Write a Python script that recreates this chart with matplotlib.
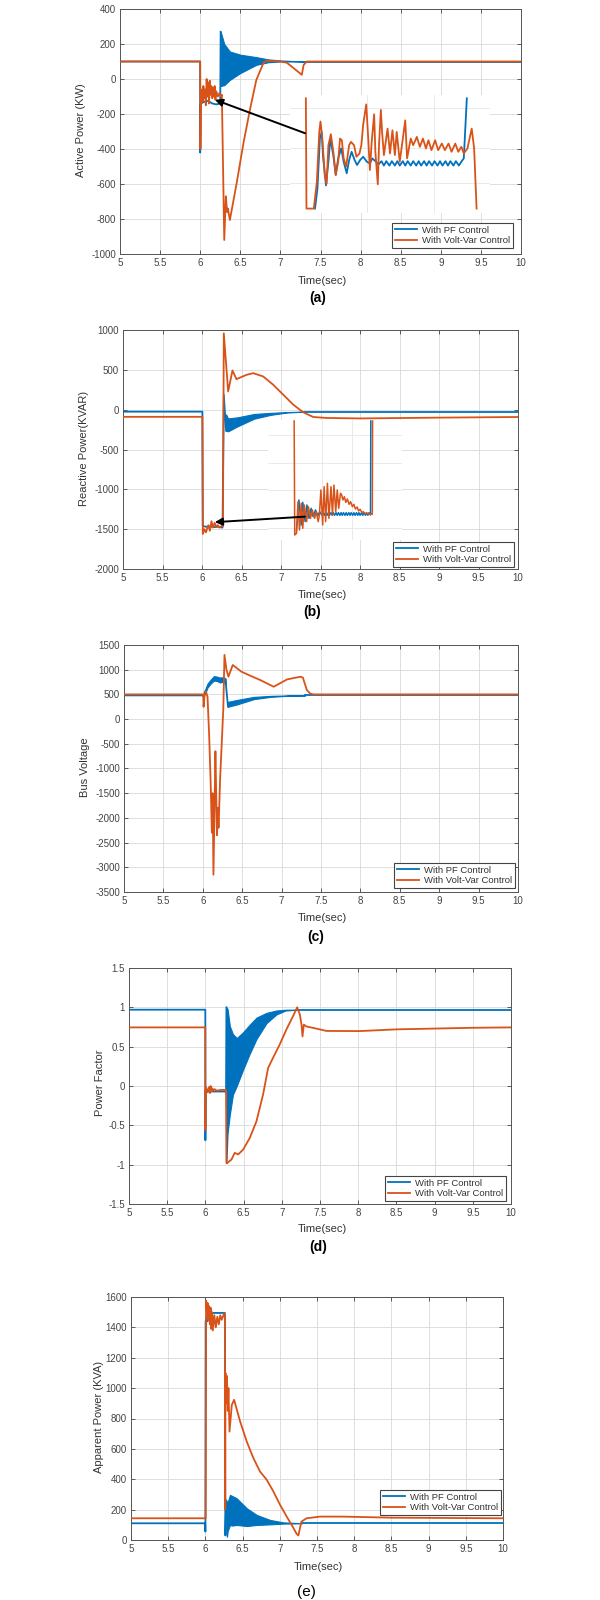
#!/usr/bin/env python3
"""Five stacked MATLAB-style time traces: PF control vs Volt-Var control."""

import matplotlib
matplotlib.use("Agg")
import matplotlib.pyplot as plt
from matplotlib.patches import ConnectionPatch

W, H = 600, 1600
BLUE = "#0072BD"
ORANGE = "#D95319"
LW = 1.3

X_TICKS = [5, 5.5, 6, 6.5, 7, 7.5, 8, 8.5, 9, 9.5, 10]
X_TICK_LABELS = ["5", "5.5", "6", "6.5", "7", "7.5", "8", "8.5", "9", "9.5", "10"]
LEGEND_LABELS = ["With PF Control", "With Volt-Var Control"]

# ---- (a) active power ----
A_PF_T = [5.0, 5.999, 6.0, 6.004, 6.01, 6.05, 6.1, 6.15, 6.2, 6.25, 6.255]
A_PF_V = [100, 100, -420, -150, -140, -130, -125, -140, -145, -140, 270]
A_PF_BAND_T = [6.255, 6.3, 6.37, 6.5, 6.7, 6.85, 7.0, 7.3]
A_PF_BAND_HI = [270, 200, 157, 139, 125, 112, 106, 100]
A_PF_BAND_LO = [-40, -35, -5, 34, 81, 96, 100, 100]
A_PF_TAIL_T = [7.3, 10.0]
A_PF_TAIL_V = [100, 100]
A_VV_T = [5.0, 5.999, 6.0, 6.003, 6.01, 6.02, 6.03, 6.04, 6.05, 6.06, 6.07, 6.08,
          6.09, 6.1, 6.11, 6.12, 6.13, 6.14, 6.15, 6.16, 6.17, 6.18, 6.19, 6.2,
          6.22, 6.24, 6.26, 6.27, 6.30, 6.32, 6.335, 6.345, 6.37, 6.455, 6.54,
          6.62, 6.70, 6.79, 6.83, 7.0, 7.08, 7.16, 7.267, 7.29, 7.33, 10.0]
A_VV_V = [100, 100, 100, -400, -100, -60, -130, -40, -110, -60, -150, 0,
          -100, -20, -140, -10, -90, -40, -110, -50, -100, -40, -120, -70,
          -100, -80, -100, -90, -920, -670, -760, -740, -806, -594, -365,
          -176, -5, 93, 105, 100, 93, 64, 24, 81, 100, 100]

# zoomed view of 6.0 - 6.28 s
INA_VV_T = [6.000, 6.001, 6.013, 6.018, 6.022, 6.024, 6.027, 6.031, 6.034, 6.037,
            6.041, 6.045, 6.049, 6.053, 6.056, 6.059, 6.062, 6.066, 6.071, 6.074,
            6.079, 6.083, 6.088, 6.091, 6.094, 6.099, 6.102, 6.105, 6.108, 6.112,
            6.114, 6.118, 6.120, 6.123, 6.125, 6.128, 6.134, 6.138, 6.142, 6.146,
            6.149, 6.154, 6.163, 6.166, 6.172, 6.176, 6.182, 6.187, 6.192, 6.197,
            6.201, 6.206, 6.212, 6.217, 6.223, 6.228, 6.234, 6.239, 6.245, 6.250,
            6.255, 6.259, 6.265, 6.272, 6.276, 6.280]
INA_VV_V = [0, -200, -200, -152, -61, -42, -73, -139, -155, -85,
            -65, -97, -139, -115, -73, -76, -109, -124, -85, -79,
            -85, -106, -100, -85, -48, -11, -67, -130, -79, -29,
            -97, -156, -85, -21, -61, -103, -55, -100, -58, -103,
            -61, -115, -40, -109, -73, -85, -70, -88, -73, -91,
            -76, -94, -76, -94, -82, -94, -82, -97, -82, -97,
            -88, -100, -91, -55, -91, -200]
INA_PF_T = [6.015, 6.019, 6.023, 6.026, 6.028, 6.033, 6.037, 6.040, 6.045, 6.049,
            6.053, 6.058, 6.062, 6.067, 6.071, 6.075, 6.080, 6.084, 6.089, 6.094,
            6.100, 6.105, 6.109, 6.115, 6.119,
            6.124, 6.128, 6.132, 6.137, 6.141, 6.146, 6.150, 6.154, 6.159, 6.163,
            6.167, 6.172, 6.176, 6.181, 6.185, 6.189, 6.194, 6.198, 6.202, 6.207,
            6.211, 6.216, 6.220, 6.224, 6.229, 6.233, 6.237, 6.242, 6.246, 6.251,
            6.255, 6.259, 6.264]
INA_PF_V = [-200, -164, -73, -61, -103, -158, -115, -73, -103, -139,
            -109, -91, -115, -136, -112, -97, -112, -121, -112, -106,
            -115, -118, -109, -115, -120,
            -114, -122, -114, -122, -114, -122, -114, -122, -114, -122,
            -114, -122, -114, -122, -114, -122, -114, -122, -114, -122,
            -114, -122, -114, -122, -114, -122, -114, -122, -114, -122,
            -115, -109, 0]

# ---- (b) reactive power ----
B_PF_T = [5.0, 6.005, 6.01, 6.05, 6.1, 6.15, 6.2, 6.255, 6.26, 6.276, 6.305]
B_PF_V = [-25, -25, -1460, -1470, -1465, -1475, -1470, -1480, -1480, 188, -265]
B_PF_BAND_T = [6.305, 6.33, 6.45, 6.66, 6.87, 7.08, 7.3]
B_PF_BAND_HI = [-60, -110, -96, -54, -40, -30, -25]
B_PF_BAND_LO = [-265, -272, -209, -113, -65, -35, -25]
B_PF_TAIL_T = [7.3, 10.0]
B_PF_TAIL_V = [-25, -25]
B_VV_T = [5.0, 6.005, 6.01, 6.03, 6.05, 6.08, 6.1, 6.12, 6.14, 6.16, 6.18, 6.2,
          6.22, 6.25, 6.265, 6.276, 6.331, 6.386, 6.436, 6.563, 6.648, 6.774,
          6.901, 7.028, 7.155, 7.281, 7.408, 7.577, 8.0, 9.0, 10.0]
B_VV_V = [-90, -90, -1560, -1500, -1540, -1450, -1520, -1400, -1480, -1420, -1470, -1450,
          -1480, -1460, -1460, 958, 229, 492, 383, 437, 458, 417,
          313, 188, 63, -33, -92, -104, -110, -100, -92]

INB_VV_T = [6.000, 6.002, 6.008, 6.013, 6.018, 6.024, 6.029, 6.034, 6.042, 6.048,
            6.055, 6.061, 6.069, 6.074, 6.081, 6.085, 6.090, 6.096, 6.101, 6.106,
            6.112, 6.117, 6.124, 6.129, 6.134, 6.140, 6.145, 6.150, 6.156, 6.160,
            6.164, 6.169, 6.174, 6.179, 6.185, 6.190, 6.196, 6.201, 6.206, 6.212,
            6.217, 6.222, 6.228, 6.233, 6.239, 6.244, 6.249, 6.257, 6.263, 6.264]
INB_VV_V = [-894, -1600, -1590, -1394, -1569, -1404, -1559, -1414, -1517, -1425,
            -1497, -1445, -1497, -1456, -1517, -1476, -1321, -1538, -1301, -1517,
            -1280, -1497, -1301, -1476, -1291, -1456, -1321, -1435, -1342, -1352,
            -1383, -1363, -1398, -1377, -1410, -1394, -1425, -1410, -1439, -1427,
            -1451, -1441, -1460, -1456, -1468, -1464, -1472, -1468, -1472, -894]
INB_PF_T = [6.008, 6.016, 6.024, 6.029, 6.037, 6.043, 6.050, 6.057, 6.064, 6.072,
            6.080, 6.086, 6.093,
            6.098, 6.102, 6.106, 6.111, 6.115, 6.119, 6.124, 6.128, 6.132, 6.136,
            6.141, 6.145, 6.149, 6.154, 6.158, 6.162, 6.166, 6.171, 6.175, 6.179,
            6.184, 6.188, 6.192, 6.197, 6.201, 6.205, 6.210, 6.214, 6.218, 6.222,
            6.227, 6.231, 6.235, 6.240, 6.244, 6.248, 6.252,
            6.257, 6.258]
INB_PF_V = [-1569, -1383, -1538, -1398, -1517, -1414, -1497, -1435, -1487, -1445,
            -1480, -1456, -1476,
            -1462, -1478, -1462, -1478, -1462, -1478, -1462, -1478, -1462, -1478,
            -1462, -1478, -1462, -1478, -1462, -1478, -1462, -1478, -1462, -1478,
            -1462, -1478, -1462, -1478, -1462, -1478, -1462, -1478, -1462, -1478,
            -1462, -1478, -1462, -1478, -1462, -1478, -1462,
            -1476, -894]

# ---- (c) bus voltage ----
C_PF_T = [5.0, 6.005, 6.01, 6.03]
C_PF_V = [480, 480, 450, 560]
C_PF_BAND1_T = [6.03, 6.06, 6.1, 6.14, 6.18, 6.22, 6.26, 6.29]
C_PF_BAND1_HI = [600, 720, 800, 870, 860, 840, 850, 820]
C_PF_BAND1_LO = [520, 640, 720, 780, 770, 740, 760, 700]
C_PF_MID_T = [6.29, 6.32]
C_PF_MID_V = [760, 250]
C_PF_BAND2_T = [6.32, 6.44, 6.65, 6.86, 7.1, 7.3]
C_PF_BAND2_HI = [350, 390, 450, 470, 480, 480]
C_PF_BAND2_LO = [250, 300, 405, 450, 475, 480]
C_PF_TAIL_T = [7.3, 10.0]
C_PF_TAIL_V = [480, 480]
C_VV_T = [5.0, 6.005, 6.01, 6.02, 6.04, 6.06, 6.08, 6.1, 6.115, 6.125, 6.135, 6.15,
          6.16, 6.17, 6.18, 6.19, 6.2, 6.22, 6.24, 6.26, 6.275, 6.3, 6.325, 6.38,
          6.49, 6.6, 6.73, 6.9, 7.07, 7.24, 7.27, 7.32, 7.36, 7.4, 10.0]
C_VV_V = [500, 500, 250, 450, 560, 450, -300, -1300, -2300, -1500, -3150, -1700,
          -650, -1500, -2350, -1800, -2200, -1200, -500, 200, 1300, 1000, 859, 1095,
          960, 880, 790, 655, 804, 858, 840, 590, 520, 500, 500]

# ---- (d) power factor ----
D_PF_T = [5.0, 5.999, 6.0, 6.004, 6.01, 6.27, 6.275]
D_PF_V = [0.97, 0.97, -0.69, -0.07, -0.07, -0.07, 1.0]
D_PF_BAND_T = [6.275, 6.29, 6.32, 6.36, 6.41, 6.49, 6.58, 6.67, 6.80, 6.93, 7.05, 7.2]
D_PF_BAND_HI = [1.0, 0.98, 0.76, 0.66, 0.61, 0.68, 0.78, 0.87, 0.93, 0.96, 0.97, 0.97]
D_PF_BAND_LO = [-0.98, -0.6, -0.36, -0.11, 0.0, 0.2, 0.41, 0.6, 0.8, 0.91, 0.96, 0.97]
D_PF_TAIL_T = [7.2, 10.0]
D_PF_TAIL_V = [0.97, 0.97]
D_VV_T = [5.0, 5.999, 6.0, 6.003, 6.01, 6.03, 6.05, 6.06, 6.07, 6.08, 6.09, 6.1,
          6.12, 6.15, 6.2, 6.27, 6.275, 6.284, 6.341, 6.384, 6.428, 6.493, 6.581,
          6.668, 6.755, 6.821, 6.886, 6.974, 7.061, 7.148, 7.201, 7.236, 7.258,
          7.271, 7.288, 7.323, 7.45, 7.585, 8.02, 8.5, 9.0, 9.5, 10.0]
D_VV_V = [0.745, 0.745, -0.56, -0.05, -0.02, -0.08, -0.01, -0.09, 0.0, -0.07, -0.03, -0.06,
          -0.04, -0.06, -0.05, -0.05, -0.98, -0.98, -0.935, -0.85, -0.87, -0.81, -0.66,
          -0.45, -0.108, 0.23, 0.36, 0.53, 0.72, 0.89, 1.0, 0.91, 0.78,
          0.63, 0.78, 0.757, 0.73, 0.70, 0.698, 0.72, 0.73, 0.74, 0.745]

# ---- (e) apparent power ----
E_PF_T = [5.0, 5.997, 6.0, 6.003, 6.02, 6.03, 6.05, 6.08, 6.15, 6.2, 6.262, 6.268, 6.28]
E_PF_V = [110, 110, 55, 1440, 1480, 1440, 1490, 1495, 1495, 1495, 1495, 30, 260]
E_PF_BAND_T = [6.28, 6.29, 6.30, 6.33, 6.36, 6.42, 6.556, 6.69, 6.87, 7.05, 7.3]
E_PF_BAND_HI = [260, 240, 250, 297, 290, 275, 209, 165, 132, 116, 110]
E_PF_BAND_LO = [40, 22, 60, 99, 95, 99, 92, 99, 103, 108, 110]
E_PF_TAIL_T = [7.3, 10.0]
E_PF_TAIL_V = [110, 110]
E_VV_T = [5.0, 6.004, 6.01, 6.02, 6.03, 6.04, 6.05, 6.06, 6.07, 6.08, 6.09, 6.1,
          6.12, 6.14, 6.16, 6.18, 6.2, 6.22, 6.25, 6.262, 6.266, 6.27, 6.28, 6.29,
          6.30, 6.31, 6.324, 6.355, 6.386, 6.444, 6.467, 6.556, 6.646, 6.735, 6.825,
          6.914, 7.004, 7.093, 7.16, 7.227, 7.25, 7.29, 7.36, 7.54, 7.85, 8.5, 10.0]
E_VV_V = [143, 143, 1576, 1500, 1560, 1450, 1540, 1420, 1530, 1390, 1500, 1380,
          1480, 1400, 1470, 1420, 1480, 1450, 1490, 1490, 200, 1100, 900, 1080,
          850, 1000, 714, 890, 923, 820, 780, 648, 538, 450, 396,
          319, 231, 154, 99, 40, 30, 121, 143, 154, 154, 147, 143]


def box(left, top, right, bottom):
    """pixel box (from top-left) -> figure fraction rect"""
    return [left / W, 1 - bottom / H, (right - left) / W, (bottom - top) / H]


def fpos(x, y):
    return x / W, 1 - y / H


def style_axes(ax, yticks, ylabels):
    ax.set_xlim(5, 10)
    ax.set_ylim(yticks[0], yticks[-1])
    ax.set_xticks(X_TICKS)
    ax.set_xticklabels(X_TICK_LABELS)
    ax.set_yticks(yticks)
    ax.set_yticklabels(ylabels)
    ax.grid(True, color="#d9d9d9", linewidth=0.6)
    ax.set_axisbelow(True)
    ax.tick_params(direction="in", length=3, width=0.6, top=True, right=True,
                   labelsize=7, colors="#444444", pad=3)
    for s in ax.spines.values():
        s.set_color("#555555")
        s.set_linewidth(0.7)


def band(ax, t, lo, hi):
    ax.fill_between(t, lo, hi, color=BLUE, linewidth=0.8, edgecolor=BLUE, zorder=2)


def legend(ax, handles, right, bottom):
    leg = ax.legend(handles, LEGEND_LABELS, loc="lower right",
                    bbox_to_anchor=fpos(right, bottom), bbox_transform=ax.figure.transFigure,
                    borderaxespad=0, fontsize=6.8, handlelength=2.4, handletextpad=0.5,
                    labelspacing=0.15, borderpad=0.3, fancybox=False, framealpha=1)
    leg.get_frame().set_edgecolor("#444444")
    leg.get_frame().set_linewidth(0.8)
    for t in leg.get_texts():
        t.set_color("#333333")


def labels(fig, ylabel, ypos, tpos, letter, lpos, letter_bold=True):
    fig.text(*fpos(*ypos), ylabel, rotation=90, ha="center", va="center",
             fontsize=8, color="#333333")
    fig.text(*fpos(*tpos), "Time(sec)", ha="center", va="center",
             fontsize=8, color="#333333")
    fig.text(*fpos(*lpos), letter, ha="center", va="center",
             fontsize=10 if letter_bold else 11,
             fontweight="bold" if letter_bold else "normal", color="black")


def inset(fig, rect, xlim, ylim, xgrid, ygrid):
    ax = fig.add_axes(rect)
    ax.set_facecolor("white")
    ax.set_xlim(*xlim)
    ax.set_ylim(*ylim)
    ax.set_xticks(xgrid)
    ax.set_yticks(ygrid)
    ax.grid(True, color="#e6e6e6", linewidth=0.6)
    ax.tick_params(length=0, labelbottom=False, labelleft=False)
    for s in ax.spines.values():
        s.set_visible(False)
    return ax


def arrow(fig, ax, tail, head):
    con = ConnectionPatch(xyA=tail, xyB=head, coordsA="data", coordsB="data",
                          axesA=ax, axesB=ax, arrowstyle="-|>", mutation_scale=11,
                          lw=1.4, color="black")
    fig.add_artist(con)


def main() -> int:
    plt.rcParams["font.family"] = ["Liberation Sans", "DejaVu Sans"]
    fig = plt.figure(figsize=(W / 100, H / 100), dpi=100)

    # (a)
    ax = fig.add_axes(box(120, 9, 521, 254))
    style_axes(ax, [-1000, -800, -600, -400, -200, 0, 200, 400],
               ["-1000", "-800", "-600", "-400", "-200", "0", "200", "400"])
    hb, = ax.plot(A_PF_T, A_PF_V, color=BLUE, lw=LW)
    band(ax, A_PF_BAND_T, A_PF_BAND_LO, A_PF_BAND_HI)
    ax.plot(A_PF_TAIL_T, A_PF_TAIL_V, color=BLUE, lw=LW)
    ho, = ax.plot(A_VV_T, A_VV_V, color=ORANGE, lw=LW, zorder=3)
    legend(ax, [hb, ho], 513, 248)
    labels(fig, "Active Power (KW)", (81, 130), (322, 281), "(a)", (318, 298))
    ins = inset(fig, box(290, 95, 490, 213), (5.974, 6.302), (-208, 6),
                [6.10, 6.21], [-154, -90, -18])
    ins.plot(INA_PF_T, INA_PF_V, color=BLUE, lw=LW)
    ins.plot(INA_VV_T, INA_VV_V, color=ORANGE, lw=LW)
    arrow(fig, ax, (7.308, -310), (6.185, -119))

    # (b)
    ax = fig.add_axes(box(123, 330, 518, 569))
    style_axes(ax, [-2000, -1500, -1000, -500, 0, 500, 1000],
               ["-2000", "-1500", "-1000", "-500", "0", "500", "1000"])
    hb, = ax.plot(B_PF_T, B_PF_V, color=BLUE, lw=LW)
    band(ax, B_PF_BAND_T, B_PF_BAND_LO, B_PF_BAND_HI)
    ax.plot(B_PF_TAIL_T, B_PF_TAIL_V, color=BLUE, lw=LW)
    ho, = ax.plot(B_VV_T, B_VV_V, color=ORANGE, lw=LW, zorder=3)
    legend(ax, [hb, ho], 514, 567)
    labels(fig, "Reactive Power(KVAR)", (84, 448), (322, 595), "(b)", (312, 612))
    ins = inset(fig, box(268, 420, 402, 540), (5.912, 6.363), (-1631, -888),
                [6.094, 6.196], [-1559, -1321, -1156, -981])
    ins.plot(INB_PF_T, INB_PF_V, color=BLUE, lw=1.1)
    ins.plot(INB_VV_T, INB_VV_V, color=ORANGE, lw=1.1)
    arrow(fig, ax, (7.303, -1343), (6.162, -1412))

    # (c)
    ax = fig.add_axes(box(124, 645, 518, 892))
    yt = [-3500, -3000, -2500, -2000, -1500, -1000, -500, 0, 500, 1000, 1500]
    style_axes(ax, yt, [str(v) for v in yt])
    hb, = ax.plot(C_PF_T, C_PF_V, color=BLUE, lw=LW)
    band(ax, C_PF_BAND1_T, C_PF_BAND1_LO, C_PF_BAND1_HI)
    ax.plot(C_PF_MID_T, C_PF_MID_V, color=BLUE, lw=LW)
    band(ax, C_PF_BAND2_T, C_PF_BAND2_LO, C_PF_BAND2_HI)
    ax.plot(C_PF_TAIL_T, C_PF_TAIL_V, color=BLUE, lw=LW)
    ho, = ax.plot(C_VV_T, C_VV_V, color=ORANGE, lw=LW, zorder=3)
    legend(ax, [hb, ho], 515, 888)
    labels(fig, "Bus Voltage", (85, 767), (322, 918), "(c)", (316, 937))

    # (d)
    ax = fig.add_axes(box(129, 968, 511, 1204))
    style_axes(ax, [-1.5, -1, -0.5, 0, 0.5, 1, 1.5],
               ["-1.5", "-1", "-0.5", "0", "0.5", "1", "1.5"])
    hb, = ax.plot(D_PF_T, D_PF_V, color=BLUE, lw=LW)
    band(ax, D_PF_BAND_T, D_PF_BAND_LO, D_PF_BAND_HI)
    ax.plot(D_PF_TAIL_T, D_PF_TAIL_V, color=BLUE, lw=LW)
    ho, = ax.plot(D_VV_T, D_VV_V, color=ORANGE, lw=LW, zorder=3)
    legend(ax, [hb, ho], 506, 1201)
    labels(fig, "Power Factor", (100, 1083), (322, 1229), "(d)", (318, 1247))

    # (e)
    ax = fig.add_axes(box(131, 1297, 503, 1540))
    yt = [0, 200, 400, 600, 800, 1000, 1200, 1400, 1600]
    style_axes(ax, yt, [str(v) for v in yt])
    hb, = ax.plot(E_PF_T, E_PF_V, color=BLUE, lw=LW)
    band(ax, E_PF_BAND_T, E_PF_BAND_LO, E_PF_BAND_HI)
    ax.plot(E_PF_TAIL_T, E_PF_TAIL_V, color=BLUE, lw=LW)
    ho, = ax.plot(E_VV_T, E_VV_V, color=ORANGE, lw=LW, zorder=3)
    legend(ax, [hb, ho], 501, 1515)
    labels(fig, "Apparent Power (KVA)", (99, 1417), (318, 1567), "(e)", (306, 1592),
           letter_bold=False)

    fig.savefig("out.png", dpi=100, facecolor="white")
    return 0


if __name__ == "__main__":
    raise SystemExit(main())
